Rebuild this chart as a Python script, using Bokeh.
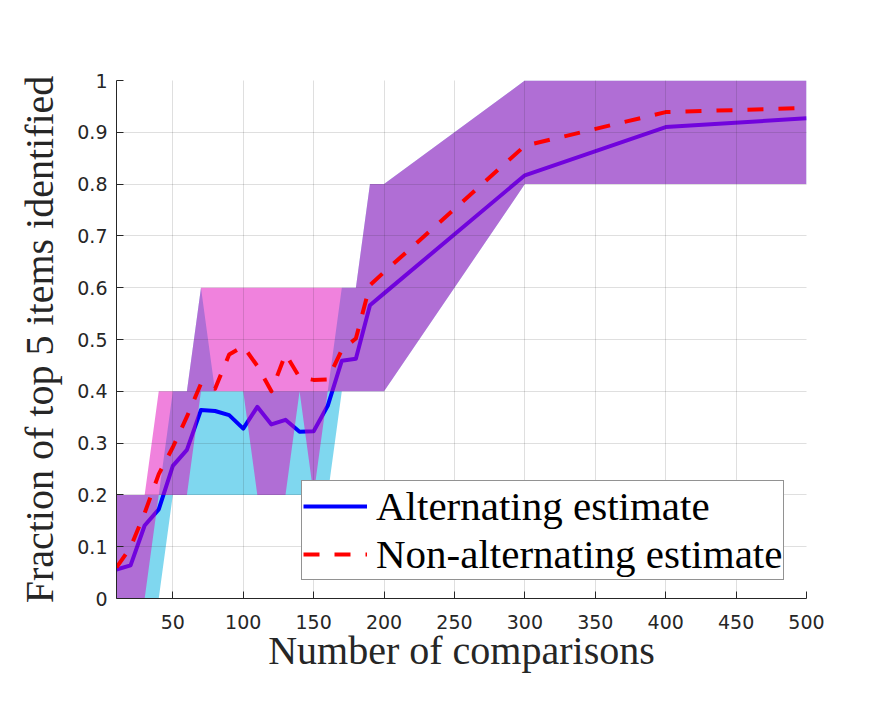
from bokeh.plotting import figure
from bokeh.models import Range1d, FixedTicker, Legend, LegendItem
from bokeh.embed import file_html
from bokeh.resources import INLINE

# ---- data ----
comparisons = [10, 20, 30, 40, 50, 60, 70, 80, 90, 100, 110, 120, 130, 140, 150,
               160, 170, 180, 190, 200, 300, 400, 500]

alt_estimate = [0.056, 0.064, 0.141, 0.172, 0.256, 0.287, 0.364, 0.362, 0.354, 0.328,
                0.370, 0.336, 0.345, 0.322, 0.323, 0.372, 0.459, 0.463, 0.566, 0.589,
                0.817, 0.910, 0.927]

nonalt_estimate = [0.060, 0.099, 0.165, 0.240, 0.292, 0.351, 0.415, 0.405, 0.471, 0.487,
                   0.449, 0.400, 0.472, 0.427, 0.422, 0.423, 0.480, 0.502, 0.605, 0.630,
                   0.874, 0.939, 0.947]

alt_lower = [0.0, 0.0, 0.0, 0.0, 0.2, 0.2, 0.2, 0.2, 0.2, 0.2, 0.2, 0.2, 0.2, 0.2, 0.2,
             0.2, 0.4, 0.4, 0.4, 0.4, 0.8, 0.8, 0.8]
alt_upper = [0.2, 0.2, 0.2, 0.2, 0.4, 0.4, 0.6, 0.4, 0.4, 0.4, 0.4, 0.4, 0.4, 0.4, 0.4,
             0.4, 0.6, 0.6, 0.8, 0.8, 1.0, 1.0, 1.0]

nonalt_lower = [0.0, 0.0, 0.0, 0.2, 0.2, 0.2, 0.4, 0.4, 0.4, 0.4, 0.2, 0.2, 0.2, 0.4, 0.2,
                0.4, 0.4, 0.4, 0.4, 0.4, 0.8, 0.8, 0.8]
nonalt_upper = [0.2, 0.2, 0.2, 0.4, 0.4, 0.4, 0.6, 0.6, 0.6, 0.6, 0.6, 0.6, 0.6, 0.6, 0.6,
                0.6, 0.6, 0.6, 0.8, 0.8, 1.0, 1.0, 1.0]

x_ticks = [50, 100, 150, 200, 250, 300, 350, 400, 450, 500]
y_ticks = [0, 0.1, 0.2, 0.3, 0.4, 0.5, 0.6, 0.7, 0.8, 0.9, 1]
y_tick_labels = ["0", "0.1", "0.2", "0.3", "0.4", "0.5", "0.6", "0.7", "0.8", "0.9", "1"]

legend_labels = ["Alternating estimate", "Non-alternating estimate"]
x_label = "Number of comparisons"
y_label = "Fraction of top 5 items identified"

# ---- figure ----
DARK = "#262626"
p = figure(width=875, height=687, output_backend="svg", toolbar_location=None,
           x_range=Range1d(10, 500), y_range=Range1d(0, 1),
           min_border_left=116, min_border_right=69, min_border_top=80,
           min_border_bottom=89)
p.outline_line_color = None
p.background_fill_color = "white"
p.border_fill_color = "white"

cyan_band = p.varea(x=comparisons, y1=alt_lower, y2=alt_upper,
                    fill_color="#00b0e0", fill_alpha=0.5)
blue_line = p.line(comparisons, alt_estimate, line_color="#0000ff", line_width=4,
                   line_join="round")
mag_band = p.varea(x=comparisons, y1=nonalt_lower, y2=nonalt_upper,
                   fill_color="#e205bb", fill_alpha=0.5)
red_line = p.line(comparisons, nonalt_estimate, line_color="#ff0000", line_width=4,
                  line_dash="16 15", line_join="round")

# axes
p.xaxis.ticker = FixedTicker(ticks=x_ticks)
p.yaxis.ticker = FixedTicker(ticks=y_ticks)
p.yaxis.major_label_overrides = {t: l for t, l in zip(y_ticks, y_tick_labels)}
for ax in (p.xaxis, p.yaxis):
    ax.axis_line_color = DARK
    ax.axis_line_width = 1
    ax.major_tick_line_color = DARK
    ax.major_tick_in = 7
    ax.major_tick_out = 0
    ax.minor_tick_line_color = None
    ax.major_label_text_font = "DejaVu Sans"
    ax.major_label_text_font_size = "19px"
    ax.major_label_text_color = DARK
    ax.axis_label_text_font = "Liberation Serif"
    ax.axis_label_text_font_size = "40px"
    ax.axis_label_text_font_style = "normal"
    ax.axis_label_text_color = DARK
p.xaxis.major_label_standoff = 16
p.yaxis.major_label_standoff = 9
p.xaxis.axis_label = x_label
p.yaxis.axis_label = y_label
p.xaxis.axis_label_standoff = -4
p.yaxis.axis_label_standoff = 12

# grid on top of the bands
for g in (p.xgrid, p.ygrid):
    g.grid_line_color = DARK
    g.grid_line_alpha = 0.15
    g.grid_line_width = 1
    g.level = "guide"
p.xgrid.ticker = FixedTicker(ticks=x_ticks)
p.ygrid.ticker = FixedTicker(ticks=y_ticks)

legend = Legend(items=[LegendItem(label=legend_labels[0], renderers=[blue_line]),
                       LegendItem(label=legend_labels[1], renderers=[red_line])],
                location=(185, 18))
legend.label_text_font = "Liberation Serif"
legend.label_text_font_size = "41px"
legend.label_text_color = "black"
legend.glyph_width = 64
legend.glyph_height = 40
legend.label_height = 40
legend.label_standoff = 9
legend.spacing = 0
legend.padding = 1
legend.margin = 0
legend.border_line_color = DARK
legend.border_line_width = 1
legend.background_fill_color = "white"
legend.background_fill_alpha = 1
p.add_layout(legend, "center")

open("out.html", "w").write(file_html(p, INLINE))
